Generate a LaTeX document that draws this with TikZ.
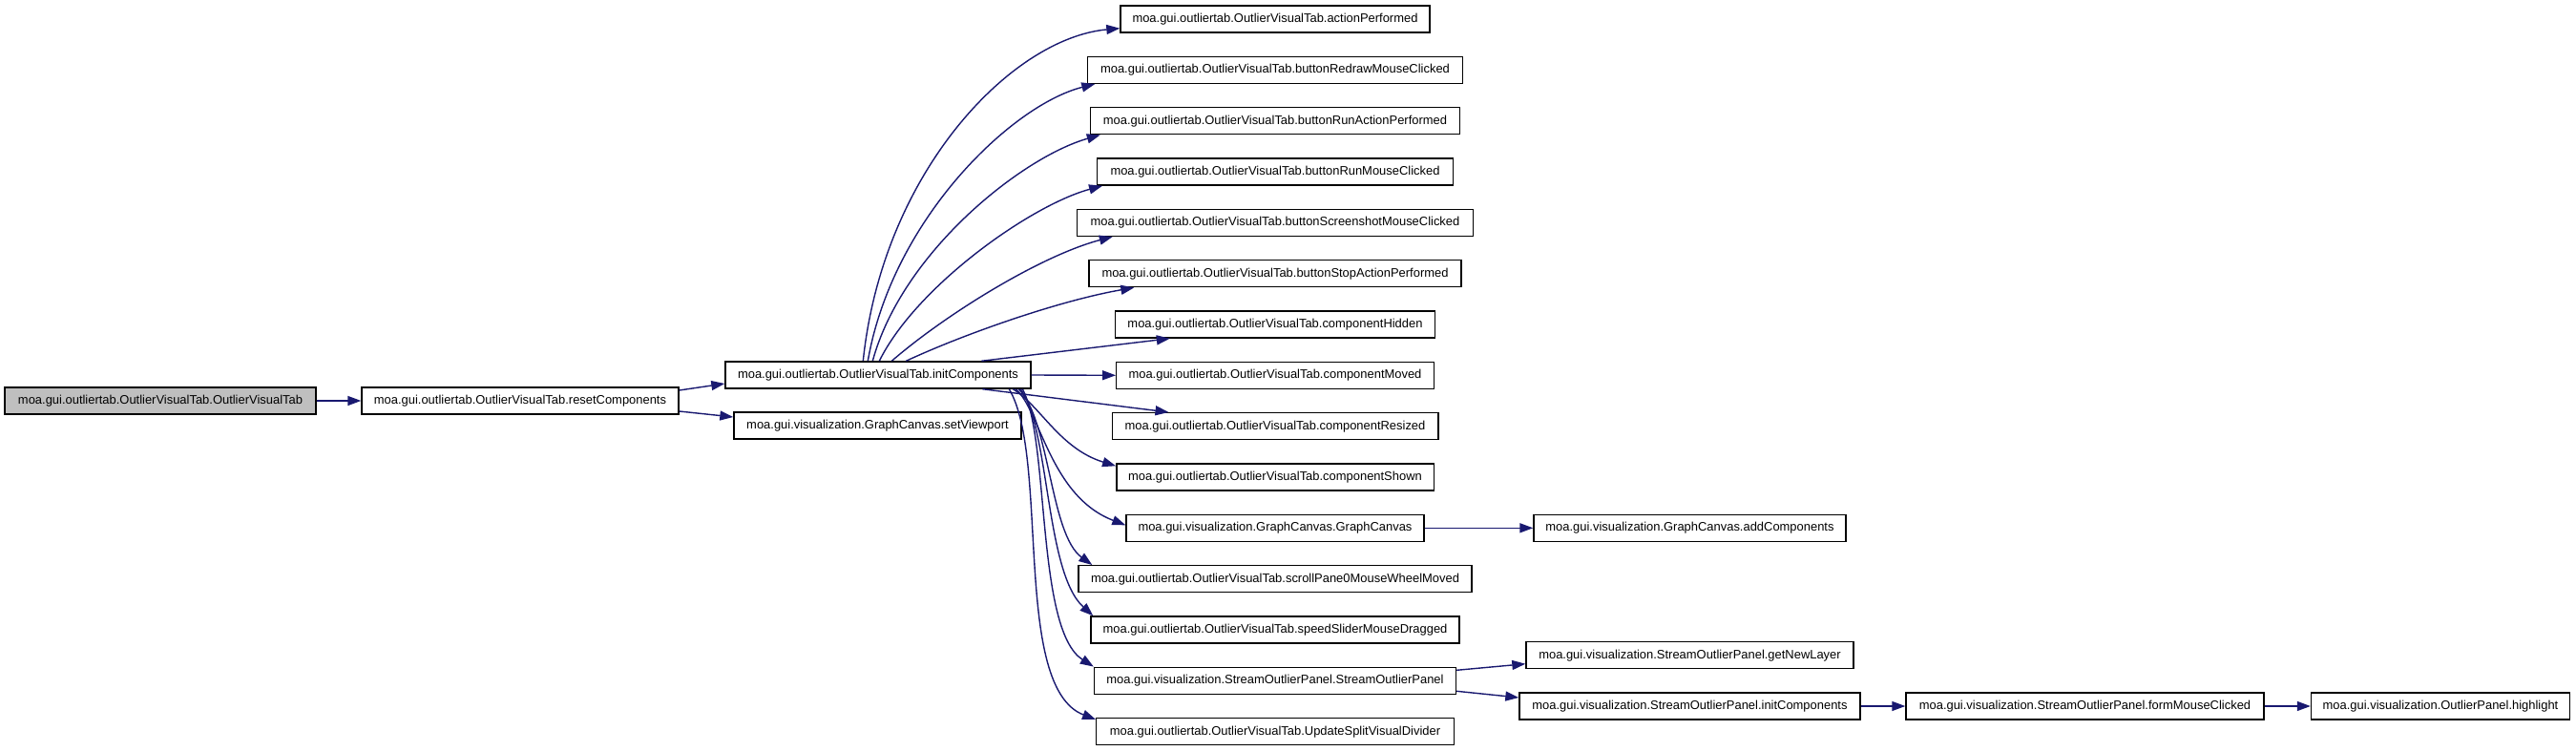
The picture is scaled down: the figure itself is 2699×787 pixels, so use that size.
\documentclass[tikz,border=0pt]{standalone}
\usepackage{fontspec}
\newfontfamily\dfont{Liberation Sans}
\usetikzlibrary{arrows.meta,calc}
\definecolor{edgec}{HTML}{191970}
\definecolor{rootfill}{HTML}{BFBFBF}
\tikzset{
  box/.style={draw=black, fill=white, line width=0.7pt, minimum height=14pt, inner sep=0pt,
    font=\dfont\fontsize{6.47}{7.5}\selectfont},
  root/.style={box, fill=rootfill},
  edge/.style={draw=edgec, line width=0.7pt, -{Triangle[length=7pt,width=5pt]}, color=edgec},
}
\begin{document}
\begin{tikzpicture}[x=0.5pt,y=-0.5pt]
\useasboundingbox (0,0) rectangle (2699,787);
% nodes
\node[root, minimum width=163pt] (A) at (168,420) {moa.gui.outliertab.OutlierVisualTab.OutlierVisualTab};
\node[box, minimum width=166pt] (B) at (545,420) {moa.gui.outliertab.OutlierVisualTab.resetComponents};
\node[box, minimum width=160pt] (C) at (920,393) {moa.gui.outliertab.OutlierVisualTab.initComponents};
\node[box, minimum width=150.5pt] (D) at (919.5,446) {moa.gui.visualization.GraphCanvas.setViewport};
\node[box, minimum width=162pt] (E1) at (1336,20) {moa.gui.outliertab.OutlierVisualTab.actionPerformed};
\node[box, minimum width=196.5pt] (E2) at (1336,73.3) {moa.gui.outliertab.OutlierVisualTab.buttonRedrawMouseClicked};
\node[box, minimum width=193.5pt] (E3) at (1336,126.7) {moa.gui.outliertab.OutlierVisualTab.buttonRunActionPerformed};
\node[box, minimum width=186.25pt] (E4) at (1336,180) {moa.gui.outliertab.OutlierVisualTab.buttonRunMouseClicked};
\node[box, minimum width=207.5pt] (E5) at (1336,233.3) {moa.gui.outliertab.OutlierVisualTab.buttonScreenshotMouseClicked};
\node[box, minimum width=195pt] (E6) at (1336,286.7) {moa.gui.outliertab.OutlierVisualTab.buttonStopActionPerformed};
\node[box, minimum width=167.5pt] (E7) at (1336,340) {moa.gui.outliertab.OutlierVisualTab.componentHidden};
\node[box, minimum width=166.25pt] (E8) at (1336,393.3) {moa.gui.outliertab.OutlierVisualTab.componentMoved};
\node[box, minimum width=170.8pt] (E9) at (1336,446.7) {moa.gui.outliertab.OutlierVisualTab.componentResized};
\node[box, minimum width=166.2pt] (E10) at (1336,500) {moa.gui.outliertab.OutlierVisualTab.componentShown};
\node[box, minimum width=156pt] (E11) at (1336,553.3) {moa.gui.visualization.GraphCanvas.GraphCanvas};
\node[box, minimum width=206pt] (E12) at (1336,606.7) {moa.gui.outliertab.OutlierVisualTab.scrollPane0MouseWheelMoved};
\node[box, minimum width=193pt] (E13) at (1336,660) {moa.gui.outliertab.OutlierVisualTab.speedSliderMouseDragged};
\node[box, minimum width=189.5pt] (E14) at (1336,713.3) {moa.gui.visualization.StreamOutlierPanel.StreamOutlierPanel};
\node[box, minimum width=187.25pt] (E15) at (1336,766.7) {moa.gui.outliertab.OutlierVisualTab.UpdateSplitVisualDivider};
\node[box, minimum width=163.5pt] (F1) at (1770.5,553.3) {moa.gui.visualization.GraphCanvas.addComponents};
\node[box, minimum width=171.5pt] (F2) at (1770.5,686.7) {moa.gui.visualization.StreamOutlierPanel.getNewLayer};
\node[box, minimum width=178.5pt] (F3) at (1770.5,740) {moa.gui.visualization.StreamOutlierPanel.initComponents};
\node[box, minimum width=187.5pt] (G) at (2184.5,740) {moa.gui.visualization.StreamOutlierPanel.formMouseClicked};
\node[box, minimum width=135.5pt] (H) at (2557,740) {moa.gui.visualization.OutlierPanel.highlight};
% edges
\draw[edge] (A) -- (B);
\draw[edge] ($(B.east)+(0,-11)$) -- ($(C.west)+(0,9)$);
\draw[edge] ($(B.east)+(0,11)$) -- ($(D.west)+(0,-9)$);
\draw[edge] ($(C.north west)+(145,0)$) .. controls (925,180) and (1060,40) .. ($(E1.south west)+(0,-5)$);
\draw[edge] ($(C.north west)+(150,0)$) .. controls (935,230) and (1060,110) .. ($(E2.south west)+(8.5,0)$);
\draw[edge] ($(C.north west)+(155,0)$) .. controls (945,265) and (1070,165) .. ($(E3.south west)+(11,0)$);
\draw[edge] ($(C.north west)+(162,0)$) .. controls (960,300) and (1080,215) .. ($(E4.south west)+(6,0)$);
\draw[edge] ($(C.north west)+(175,0)$) .. controls (990,330) and (1090,268) .. ($(E5.south west)+(38,0)$);
\draw[edge] ($(C.north west)+(190,0)$) .. controls (1010,350) and (1110,315) .. ($(E6.south west)+(48,0)$);
\draw[edge] ($(C.north west)+(269,0)$) -- ($(E7.south west)+(58,0)$);
\draw[edge] (C.east) -- (E8.west);
\draw[edge] ($(C.south west)+(270,0)$) -- ($(E9.north west)+(60,0)$);
\draw[edge] ($(C.south west)+(302,0)$) .. controls (1090,425) and (1110,470) .. ($(E10.north west)+(0,3)$);
\draw[edge] ($(C.south west)+(305,0)$) .. controls (1090,430) and (1100,520) .. ($(E11.west)+(0,-3)$);
\draw[edge] ($(C.south west)+(308,0)$) .. controls (1100,440) and (1100,560) .. ($(E12.north west)+(15,0)$);
\draw[edge] ($(C.south west)+(310,0)$) .. controls (1100,450) and (1095,600) .. ($(E13.north west)+(3,0)$);
\draw[edge] ($(C.south west)+(312,0)$) .. controls (1100,460) and (1085,660) .. (E14.north west);
\draw[edge] ($(C.south west)+(298,0)$) .. controls (1100,480) and (1060,720) .. ($(E15.north west)+(0,2)$);
\draw[edge] (E11) -- (F1);
\draw[edge] ($(E14.east)+(0,-11)$) -- ($(F2.west)+(0,9)$);
\draw[edge] ($(E14.east)+(0,11)$) -- ($(F3.west)+(0,-9)$);
\draw[edge] (F3) -- (G);
\draw[edge] (G) -- (H);
\end{tikzpicture}
\end{document}
